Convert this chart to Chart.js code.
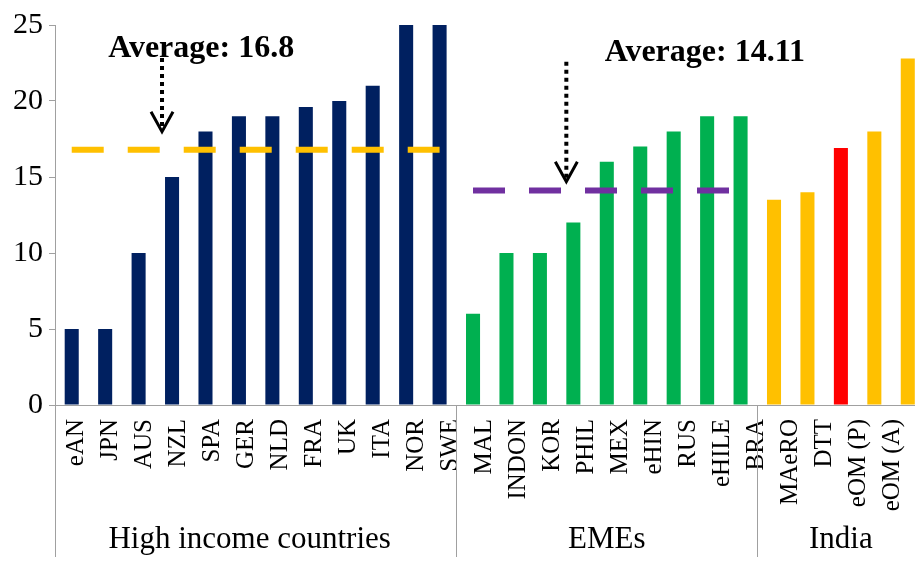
<!DOCTYPE html>
<html><head><meta charset="utf-8">
<script src="https://cdn.jsdelivr.net/npm/chart.js@4"></script>
<style>html,body{margin:0;padding:0;overflow:hidden;background:#fff;width:915px;height:563px}canvas{display:block}</style>
</head><body>
<canvas id="c" width="960" height="563"></canvas>
<script>
// ---------- data ----------
const groupNames = ['High income countries', 'EMEs', 'India'];
const hicValues = [5, 5, 10, 15, 18, 19, 19, 19.6, 20, 21, 25, 25];
const emeValues = [6, 10, 10, 12, 16, 17, 18, 19, 19];
const indiaValues = [13.5, 14, 16.9, 18, 22.8];
const tickLabels = ['eAN', 'JPN', 'AUS', 'NZL', 'SPA', 'GER', 'NLD', 'FRA', 'UK', 'ITA', 'NOR', 'SWE',
  'MAL', 'INDON', 'KOR', 'PHIL', 'MEX', 'eHIN', 'RUS', 'eHILE',
  'BRA', 'MAeRO', 'DTT', 'eOM (P)', 'eOM (A)'];
const hicAverage = 16.8;
const emeAverage = 14.11;
const yTickValues = [0, 5, 10, 15, 20, 25];

// ---------- styling / layout ----------
const FONT = 'Liberation Serif';
const AXIS_GRAY = '#a0a0a0';
const hicColors = hicValues.map(() => '#002060');
const emeColors = emeValues.map(() => '#00B050');
const indiaColors = ['#FFC000', '#FFC000', '#FF0000', '#FFC000', '#FFC000'];

const allValues = [...hicValues, ...emeValues, ...indiaValues];
const groupSizes = [hicValues.length, emeValues.length, indiaValues.length];
const barKeys = allValues.map((_, i) => String(i));
const barColors = [...hicColors, ...emeColors, ...indiaColors];
const hicLine = allValues.map((_, i) => i < groupSizes[0] ? hicAverage : null);
const emeLine = allValues.map((_, i) => (i >= groupSizes[0] && i < groupSizes[0] + groupSizes[1]) ? emeAverage : null);

const notes = [
  { text: 'Average: ' + hicAverage, x: 3.87, y: 22.9 },
  { text: 'Average: ' + emeAverage, x: 18.93, y: 22.6 }
];
const arrows = [
  { x: 2.7, from: 22.83, to: 17.98 },
  { x: 14.79, from: 22.59, to: 14.69 }
];

const overlay = {
  id: 'overlay',
  afterDraw(chart) {
    const { ctx, chartArea, scales: { x, y } } = chart;
    ctx.save();
    // group separators
    const bounds = [chartArea.left];
    let cum = 0;
    groupSizes.forEach((n, i) => {
      cum += n;
      if (i < groupSizes.length - 1) bounds.push((x.getPixelForValue(cum - 1) + x.getPixelForValue(cum)) / 2);
    });
    ctx.strokeStyle = AXIS_GRAY;
    ctx.lineWidth = 1;
    bounds.forEach(bx => {
      const px = Math.round(bx) + 0.5;
      ctx.beginPath(); ctx.moveTo(px, chartArea.bottom); ctx.lineTo(px, chartArea.bottom + 152); ctx.stroke();
    });
    // group labels
    ctx.fillStyle = '#000';
    ctx.font = '31px "' + FONT + '"';
    ctx.textAlign = 'center';
    ctx.textBaseline = 'alphabetic';
    groupNames.forEach((g, i) => {
      const l = bounds[i];
      const r = i + 1 < bounds.length ? bounds[i + 1] : chartArea.right;
      ctx.fillText(g, (l + r) / 2 - (i === 0 ? 6 : 0), chartArea.bottom + 143);
    });
    // annotation texts
    ctx.font = 'bold 32px "' + FONT + '"';
    notes.forEach(n => ctx.fillText(n.text, x.getPixelForValue(n.x), y.getPixelForValue(n.y)));
    // dotted arrows
    arrows.forEach(a => {
      const ax = x.getPixelForValue(a.x);
      const y0 = y.getPixelForValue(a.from);
      const y1 = y.getPixelForValue(a.to);
      ctx.strokeStyle = '#000';
      ctx.lineWidth = 4;
      ctx.setLineDash([4, 4]);
      ctx.lineCap = 'butt';
      ctx.beginPath(); ctx.moveTo(ax, y0); ctx.lineTo(ax, y1 - 4); ctx.stroke();
      ctx.setLineDash([]);
      ctx.lineWidth = 3;
      ctx.beginPath();
      ctx.moveTo(ax - 11, y1 - 20); ctx.lineTo(ax, y1); ctx.lineTo(ax + 11, y1 - 20);
      ctx.stroke();
    });
    ctx.restore();
  }
};

new Chart(document.getElementById('c'), {
  data: {
    labels: barKeys,
    datasets: [
      { type: 'line', data: hicLine, borderColor: '#FFC000', borderWidth: 6, borderDash: [32, 24], borderCapStyle: 'butt', pointRadius: 0, fill: false, order: 1, xAxisID: 'x', yAxisID: 'y' },
      { type: 'line', data: emeLine, borderColor: '#7030A0', borderWidth: 6, borderDash: [32, 24], borderCapStyle: 'butt', pointRadius: 0, fill: false, order: 1, xAxisID: 'x', yAxisID: 'y' },
      { type: 'bar', data: allValues, backgroundColor: barColors, categoryPercentage: 1, barPercentage: 0.42, order: 2, xAxisID: 'x', yAxisID: 'y' }
    ]
  },
  options: {
    responsive: false,
    animation: false,
    devicePixelRatio: 1,
    layout: { padding: { left: 0, top: 25, right: 35.5, bottom: 0 } },
    plugins: { legend: { display: false }, tooltip: { enabled: false } },
    scales: {
      x: {
        type: 'category', offset: true,
        grid: { display: false },
        border: { display: true, color: AXIS_GRAY, width: 1 },
        ticks: { display: false },
        afterFit: s => { s.height = 0; }
      },
      xl: {
        type: 'linear', position: 'bottom', min: -0.63, max: 24.94,
        grid: { display: false, drawTicks: false },
        border: { display: false },
        afterBuildTicks: s => { s.ticks = tickLabels.map((_, i) => ({ value: i })); },
        ticks: {
          autoSkip: false, minRotation: 90, maxRotation: 90, padding: 14,
          font: { family: FONT, size: 25 }, color: '#000',
          callback: v => tickLabels[v] !== undefined ? tickLabels[v] : ''
        },
        afterFit: s => { s.height = 158; }
      },
      y: {
        min: 0, max: 25,
        afterBuildTicks: s => { s.ticks = yTickValues.map(v => ({ value: v })); },
        ticks: { font: { family: FONT, size: 30 }, color: '#000', padding: 6 },
        grid: { drawOnChartArea: false, color: AXIS_GRAY, tickLength: 6 },
        border: { color: AXIS_GRAY },
        afterFit: s => { s.width = 55; }
      }
    }
  },
  plugins: [overlay]
});
</script>
</body></html>
